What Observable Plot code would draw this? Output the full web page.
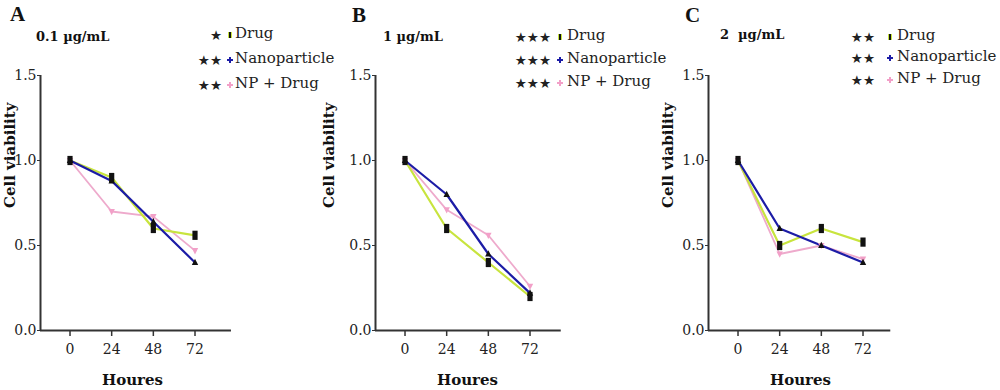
<!DOCTYPE html>
<html>
<head>
<meta charset="utf-8">
<script src="https://cdn.jsdelivr.net/npm/d3@7"></script>
<script src="https://cdn.jsdelivr.net/npm/@observablehq/plot@0.6"></script>
<style>
  body { margin: 0; background: #fff; }
  #wrap { position: relative; width: 1000px; height: 390px; overflow: hidden; background: #fff; font-family: "DejaVu Serif", serif; color: #222; }
  .panel { position: absolute; top: 0; }
  .abs { position: absolute; white-space: pre; line-height: 1; }
  .letter { font-family: "Liberation Serif", serif; font-weight: bold; font-size: 21px; color: #111; }
  .title { font-family: "DejaVu Serif", serif; font-weight: bold; font-size: 13px; color: #111; }
  .stars { font-family: "DejaVu Sans", sans-serif; font-size: 13.5px; color: #222; letter-spacing: 0px; text-align: right; }
  .ltext { font-family: "DejaVu Serif", serif; font-size: 15px; letter-spacing: 0px; color: #222; }
  .mk { position: absolute; }
</style>
</head>
<body>
<div id="wrap"></div>
<script>
// ---- data ----
const hours = [0, 24, 48, 72];
const seriesNames = ["Drug", "Nanoparticle", "NP + Drug"];
const panelLetters = ["A", "B", "C"];
const panelTitles = ["0.1 µg/mL", "1 µg/mL", "2  µg/mL"];
const panelStars = [["★", "★★", "★★"], ["★★★", "★★★", "★★★"], ["★★", "★★", "★★"]];

const drugA = [1.0, 0.9, 0.6, 0.56];
const nanoA = [1.0, 0.88, 0.64, 0.4];
const npDrugA = [1.0, 0.7, 0.67, 0.47];

const drugB = [1.0, 0.6, 0.4, 0.2];
const nanoB = [1.0, 0.8, 0.45, 0.22];
const npDrugB = [1.0, 0.71, 0.56, 0.26];

const drugC = [1.0, 0.5, 0.6, 0.52];
const nanoC = [1.0, 0.6, 0.5, 0.4];
const npDrugC = [1.0, 0.45, 0.5, 0.42];

const yTicks = [0, 0.5, 1.0, 1.5];

// ---- styling / layout ----
const colors = {"Drug": "#c8e43e", "Nanoparticle": "#1c1ca6", "NP + Drug": "#eeaacc"};
const lineWidths = {"Drug": 2.2, "Nanoparticle": 2.2, "NP + Drug": 1.8};

const rectSym = {draw(ctx) { ctx.rect(-2.6, -4.6, 5.2, 9.2); }};
const triUp = {draw(ctx) { ctx.moveTo(0, -3.8); ctx.lineTo(3.2, 2.6); ctx.lineTo(-3.2, 2.6); ctx.closePath(); }};
const triDown = {draw(ctx) { ctx.moveTo(0, 3.8); ctx.lineTo(3.2, -2.6); ctx.lineTo(-3.2, -2.6); ctx.closePath(); }};

const panels = [
  {vals: [drugA, nanoA, npDrugA], left: -20, xmax: 93, ylabDx: -30,
   letter: [10, 4], title: [36, 30], legend: {starRight: 222, mk: 230, text: 235, rows: [35, 60, 85]}},
  {vals: [drugB, nanoB, npDrugB], left: 315, xmax: 90, ylabDx: -46,
   letter: [352, 5], title: [383, 30], legend: {starRight: 551, mk: 560, text: 567, rows: [37, 60, 83]}},
  {vals: [drugC, nanoC, npDrugC], left: 648, xmax: 88, ylabDx: -40,
   letter: [685, 5], title: [720, 28], legend: {starRight: 875, mk: 890, text: 897, rows: [37, 58, 80]}}
];

const wrap = document.getElementById("wrap");
const xmin = -17;
const pxPerHour = 1.736;
const ML = 60;

function addDiv(cls, text, x, y) {
  const d = document.createElement("div");
  d.className = "abs " + cls;
  d.textContent = text;
  d.style.left = x + "px";
  d.style.top = y + "px";
  wrap.appendChild(d);
  return d;
}

panels.forEach((p, pi) => {
  const rows = [];
  seriesNames.forEach((s, si) => {
    hours.forEach((h, hi) => rows.push({series: s, hour: h, v: p.vals[si][hi]}));
  });
  const drawOrder = ["NP + Drug", "Drug", "Nanoparticle"];
  const lines = drawOrder.map(s => Plot.line(rows.filter(r => r.series === s), {
    x: "hour", y: "v", stroke: colors[s], strokeWidth: lineWidths[s], strokeLinejoin: "round"
  }));
  const plot = Plot.plot({
    width: 333,
    height: 390,
    marginLeft: ML,
    marginRight: 0,
    marginTop: 75,
    marginBottom: 60,
    style: {fontFamily: "DejaVu Serif, serif", fontSize: "14px", color: "#222", background: "transparent", overflow: "visible"},
    x: {domain: [xmin, p.xmax], range: [ML, ML + (p.xmax - xmin) * pxPerHour]},
    y: {domain: [0, 1.5]},
    marks: [
      Plot.axisY({ticks: yTicks, tickFormat: d3.format(".1f"), tickSize: 3, tickPadding: 1, label: null, stroke: "#333"}),
      Plot.axisX({ticks: hours, tickSize: 6, tickPadding: 8, label: null, stroke: "#333", strokeWidth: 1.5}),
      Plot.ruleX([xmin], {y1: 0, y2: 1.5, stroke: "#333", strokeWidth: 2}),
      Plot.ruleY([0], {x1: xmin, x2: p.xmax, stroke: "#333", strokeWidth: 2}),
      ...lines,
      Plot.dot(rows.filter(r => r.series === "NP + Drug"), {x: "hour", y: "v", symbol: triDown, fill: "#f2a0c8", stroke: "none"}),
      Plot.dot(rows.filter(r => r.series === "Nanoparticle"), {x: "hour", y: "v", symbol: triUp, fill: "#111", stroke: "none"}),
      Plot.dot(rows.filter(r => r.series === "Drug"), {x: "hour", y: "v", symbol: rectSym, fill: "#111", stroke: "none"}),
      Plot.text(["Cell viability"], {frameAnchor: "left", rotate: -90, dx: p.ylabDx, dy: 5, fontWeight: "bold", fontSize: 15, fill: "#111"}),
      Plot.text(["Houres"], {x: [36], frameAnchor: "bottom", lineAnchor: "middle", dy: 50, fontWeight: "bold", fontSize: 15, fill: "#111"})
    ]
  });
  plot.classList.add("panel");
  plot.style.left = p.left + "px";
  wrap.appendChild(plot);

  addDiv("letter", panelLetters[pi], p.letter[0], p.letter[1]);
  addDiv("title", panelTitles[pi], p.title[0], p.title[1]);

  seriesNames.forEach((s, si) => {
    const yc = p.legend.rows[si];
    const st = addDiv("stars", panelStars[pi][si], 0, yc - 6);
    st.style.left = "auto";
    st.style.right = (1000 - p.legend.starRight) + "px";
    // marker
    const m = document.createElement("div");
    m.className = "mk";
    if (s === "Drug") {
      m.style.left = (p.legend.mk - 2) + "px"; m.style.top = (yc - 3) + "px";
      m.style.width = "2px"; m.style.height = "6px"; m.style.background = "#111";
      m.style.borderLeft = "1px solid " + colors[s]; m.style.borderRight = "1px solid " + colors[s];
    } else {
      m.style.left = (p.legend.mk - 3) + "px"; m.style.top = (yc - 3) + "px";
      m.style.width = "6px"; m.style.height = "6px";
      const c = s === "Nanoparticle" ? colors[s] : "#f2a0c8";
      m.style.background = `linear-gradient(${c},${c}) center/6px 2px no-repeat, linear-gradient(${c},${c}) center/2px 6px no-repeat`;
    }
    wrap.appendChild(m);
    addDiv("ltext", s, p.legend.text, yc - 9);
  });
});
</script>
</body>
</html>
